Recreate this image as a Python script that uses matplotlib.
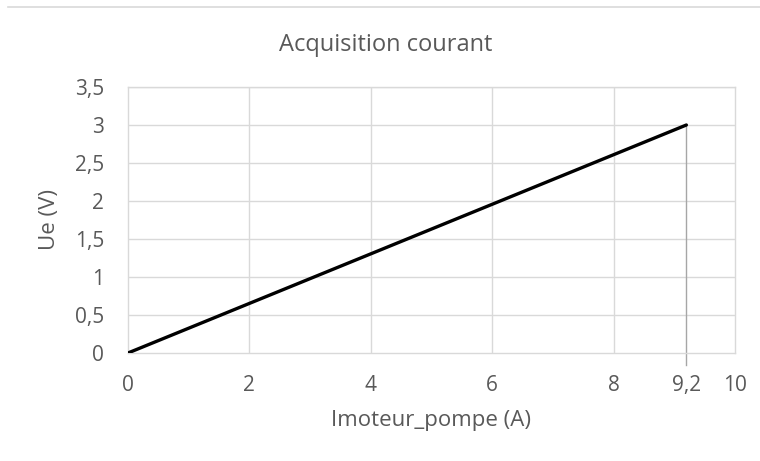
import matplotlib.pyplot as plt
from matplotlib.lines import Line2D

# data
courant = [0, 9.2]
tension = [0, 3]
x_ticks = [0, 2, 4, 6, 8, 9.2, 10]
x_labels = ['0', '2', '4', '6', '8', '9,2', '10']
y_ticks = [0, 0.5, 1, 1.5, 2, 2.5, 3, 3.5]
y_labels = ['0', '0,5', '1', '1,5', '2', '2,5', '3', '3,5']

plt.rcParams['font.family'] = ['Open Sans', 'DejaVu Sans']
grey = '#595959'
grid_col = '#d9d9d9'

fig = plt.figure(figsize=(7.6, 4.61), dpi=100)
ax = fig.add_axes([0.1684, 0.2343, 0.7986, 0.577])

ax.plot(courant, tension, color='black', lw=2.4, solid_capstyle='round', zorder=3)
# drop line from the last point down to the axis
ax.plot([courant[-1], courant[-1]], [tension[-1], -0.16], color='#a6a6a6', lw=1,
        clip_on=False, zorder=2)

ax.set_xlim(0, 10)
ax.set_ylim(0, 3.5)
ax.set_xticks(x_ticks)
ax.set_xticklabels(x_labels)
ax.set_yticks(y_ticks)
ax.set_yticklabels(y_labels)

for g in [2, 4, 6, 8]:
    ax.axvline(g, color=grid_col, lw=1, zorder=1)
for g in y_ticks[1:]:
    ax.axhline(g, color=grid_col, lw=1, zorder=1)
for s in ax.spines.values():
    s.set_color(grid_col)
    s.set_linewidth(1)

ax.tick_params(axis='x', length=0, pad=16, labelsize=15, colors=grey)
ax.tick_params(axis='y', length=0, pad=17, labelsize=15, colors=grey)

fig.text(0.508, 0.902, 'Acquisition courant', fontsize=17, color=grey,
         ha='center', va='center')
ax.set_xlabel('Imoteur_pompe (A)', fontsize=16, color=grey)
ax.xaxis.set_label_coords(0.5, -0.215)
ax.set_ylabel('Ue (V)', fontsize=16, color=grey)
ax.yaxis.set_label_coords(-0.112, 0.5)

# thin line across the top of the chart area
fig.add_artist(Line2D([0.01, 1.0], [0.984, 0.984], color='#d9d9d9', lw=1.2))

fig.savefig('out.png', dpi=100, facecolor='white')
